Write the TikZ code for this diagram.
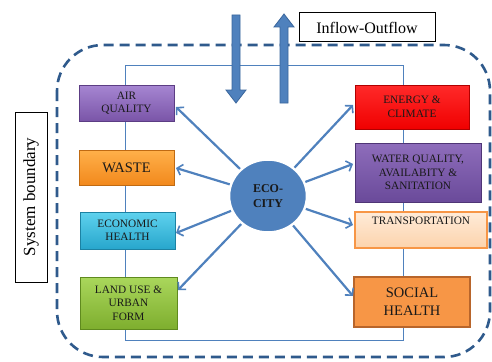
\documentclass[tikz,border=0pt]{standalone}
\usepackage{fontspec}
\setmainfont{Liberation Serif}
\usetikzlibrary{arrows.meta,shapes.geometric,shadows}
\definecolor{blu}{HTML}{4F81BD}
\definecolor{bludark}{HTML}{3A669C}
\definecolor{dashc}{HTML}{2F5A8C}
\definecolor{purT}{HTML}{A686D2}
\definecolor{purB}{HTML}{7A55A8}
\definecolor{purD}{HTML}{5C3D84}
\definecolor{orT}{HTML}{FFB04A}
\definecolor{orB}{HTML}{F2891C}
\definecolor{orD}{HTML}{C06A12}
\definecolor{cyT}{HTML}{5FD2EE}
\definecolor{cyB}{HTML}{27A6CC}
\definecolor{cyD}{HTML}{1C82A3}
\definecolor{grT}{HTML}{AAD75C}
\definecolor{grB}{HTML}{7EAE2E}
\definecolor{grD}{HTML}{5F8A1E}
\definecolor{rdT}{HTML}{FF2A2A}
\definecolor{rdB}{HTML}{F00000}
\definecolor{rdD}{HTML}{B00000}
\definecolor{wpT}{HTML}{8E6DBB}
\definecolor{wpB}{HTML}{6A4A9A}
\definecolor{wpD}{HTML}{4F3576}
\definecolor{peT}{HTML}{FFEBD8}
\definecolor{peB}{HTML}{FCD3AC}
\definecolor{peD}{HTML}{F79646}
\definecolor{soF}{HTML}{F79646}
\definecolor{soD}{HTML}{B8652B}
\begin{document}
\begin{tikzpicture}[x=1pt,y=-1pt,
  box/.style={rectangle,draw,line width=0.8pt,align=center,inner sep=1pt,text=black!90,
    font=\fontsize{11.3}{13.5}\selectfont,drop shadow={opacity=0.35,shadow xshift=1pt,shadow yshift=-1.2pt}},
  spoke/.style={draw=blu,line width=2.2pt,-{Straight Barb[length=5pt,width=11pt,line width=1.6pt]}},
  thin/.style={draw=blu,line width=0.9pt},
  bigarrow/.style={fill=blu,draw=bludark,line width=0.8pt,line join=miter}
]
\useasboundingbox (0,0) rectangle (492,361);
\fill[white] (0,0) rectangle (492,361);

% dashed system boundary
\draw[dashc,line width=2.6pt,dash pattern=on 10pt off 6pt,rounded corners=46pt]
  (57,45) rectangle (490,357);

% inner thin loop
\draw[thin] (125,65) rectangle (403,340);

% left boxes
\node[box,minimum width=95,minimum height=36,draw=purD,top color=purT,bottom color=purB] (air) at (126.5,103) {AIR\\QUALITY};
\node[box,minimum width=95,minimum height=35,draw=orD,top color=orT,bottom color=orB,font=\fontsize{14.5}{16}\selectfont] (waste) at (126.5,167.5) {WASTE};
\node[box,minimum width=95,minimum height=37,draw=cyD,top color=cyT,bottom color=cyB] (econ) at (127.5,230.5) {ECONOMIC\\HEALTH};
\node[box,minimum width=97,minimum height=52,draw=grD,top color=grT,bottom color=grB] (land) at (128.5,303) {LAND USE \&\\URBAN\\FORM};

% right boxes
\node[box,minimum width=114,minimum height=44,draw=rdD,top color=rdT,bottom color=rdB] (energy) at (412,107) {ENERGY \&\\CLIMATE};
\node[box,minimum width=126,minimum height=59,draw=wpD,top color=wpT,bottom color=wpB] (water) at (418,172.5) {WATER QUALITY,\\AVAILABITY \&\\SANITATION};
\node[box,minimum width=132,minimum height=36,draw=peD,line width=1.4pt,top color=peT,bottom color=peB] (trans) at (421,230) {TRANSPORTATION\\[4pt]};
\node[box,minimum width=116,minimum height=50,draw=soD,line width=2pt,fill=soF,font=\fontsize{14.5}{18}\selectfont] (social) at (412,302) {SOCIAL\\HEALTH};

% eco-city
\node[ellipse,fill=blu,draw=white,line width=2.5pt,minimum width=78,minimum height=73,
  align=center,font=\bfseries\fontsize{12}{15}\selectfont,text=black!90] (eco) at (268,196) {ECO-\\CITY};

% spokes
\coordinate (tAir) at (176,107);
\coordinate (tWaste) at (176,168);
\coordinate (tEcon) at (176,233);
\coordinate (tLand) at (178,290);
\coordinate (tEnergy) at (353,105);
\coordinate (tWater) at (353,164);
\coordinate (tTrans) at (353,225);
\coordinate (tSocial) at (353,296);
\foreach \t in {tAir,tWaste,tEcon,tLand,tEnergy,tWater,tTrans,tSocial}
  \draw[spoke] (eco) -- (\t);

% big in/out arrows
\draw[bigarrow] (232,15) -- (240,15) -- (240,90) -- (246,90) -- (236,103) -- (226,90) -- (232,90) -- cycle;
\draw[bigarrow] (280,103) -- (288,103) -- (288,27) -- (294,27) -- (284,14) -- (274,27) -- (280,27) -- cycle;

% labels
\node[draw=black,line width=1pt,fill=white,minimum width=136,minimum height=29,
  font=\fontsize{16}{18}\selectfont] (io) at (367,27.5) {Inflow-Outflow};
\node[draw=black,line width=1pt,fill=white,rotate=90,minimum width=170,minimum height=32,
  font=\fontsize{17}{19}\selectfont] (sb) at (31,197) {System boundary};
\end{tikzpicture}
\end{document}
